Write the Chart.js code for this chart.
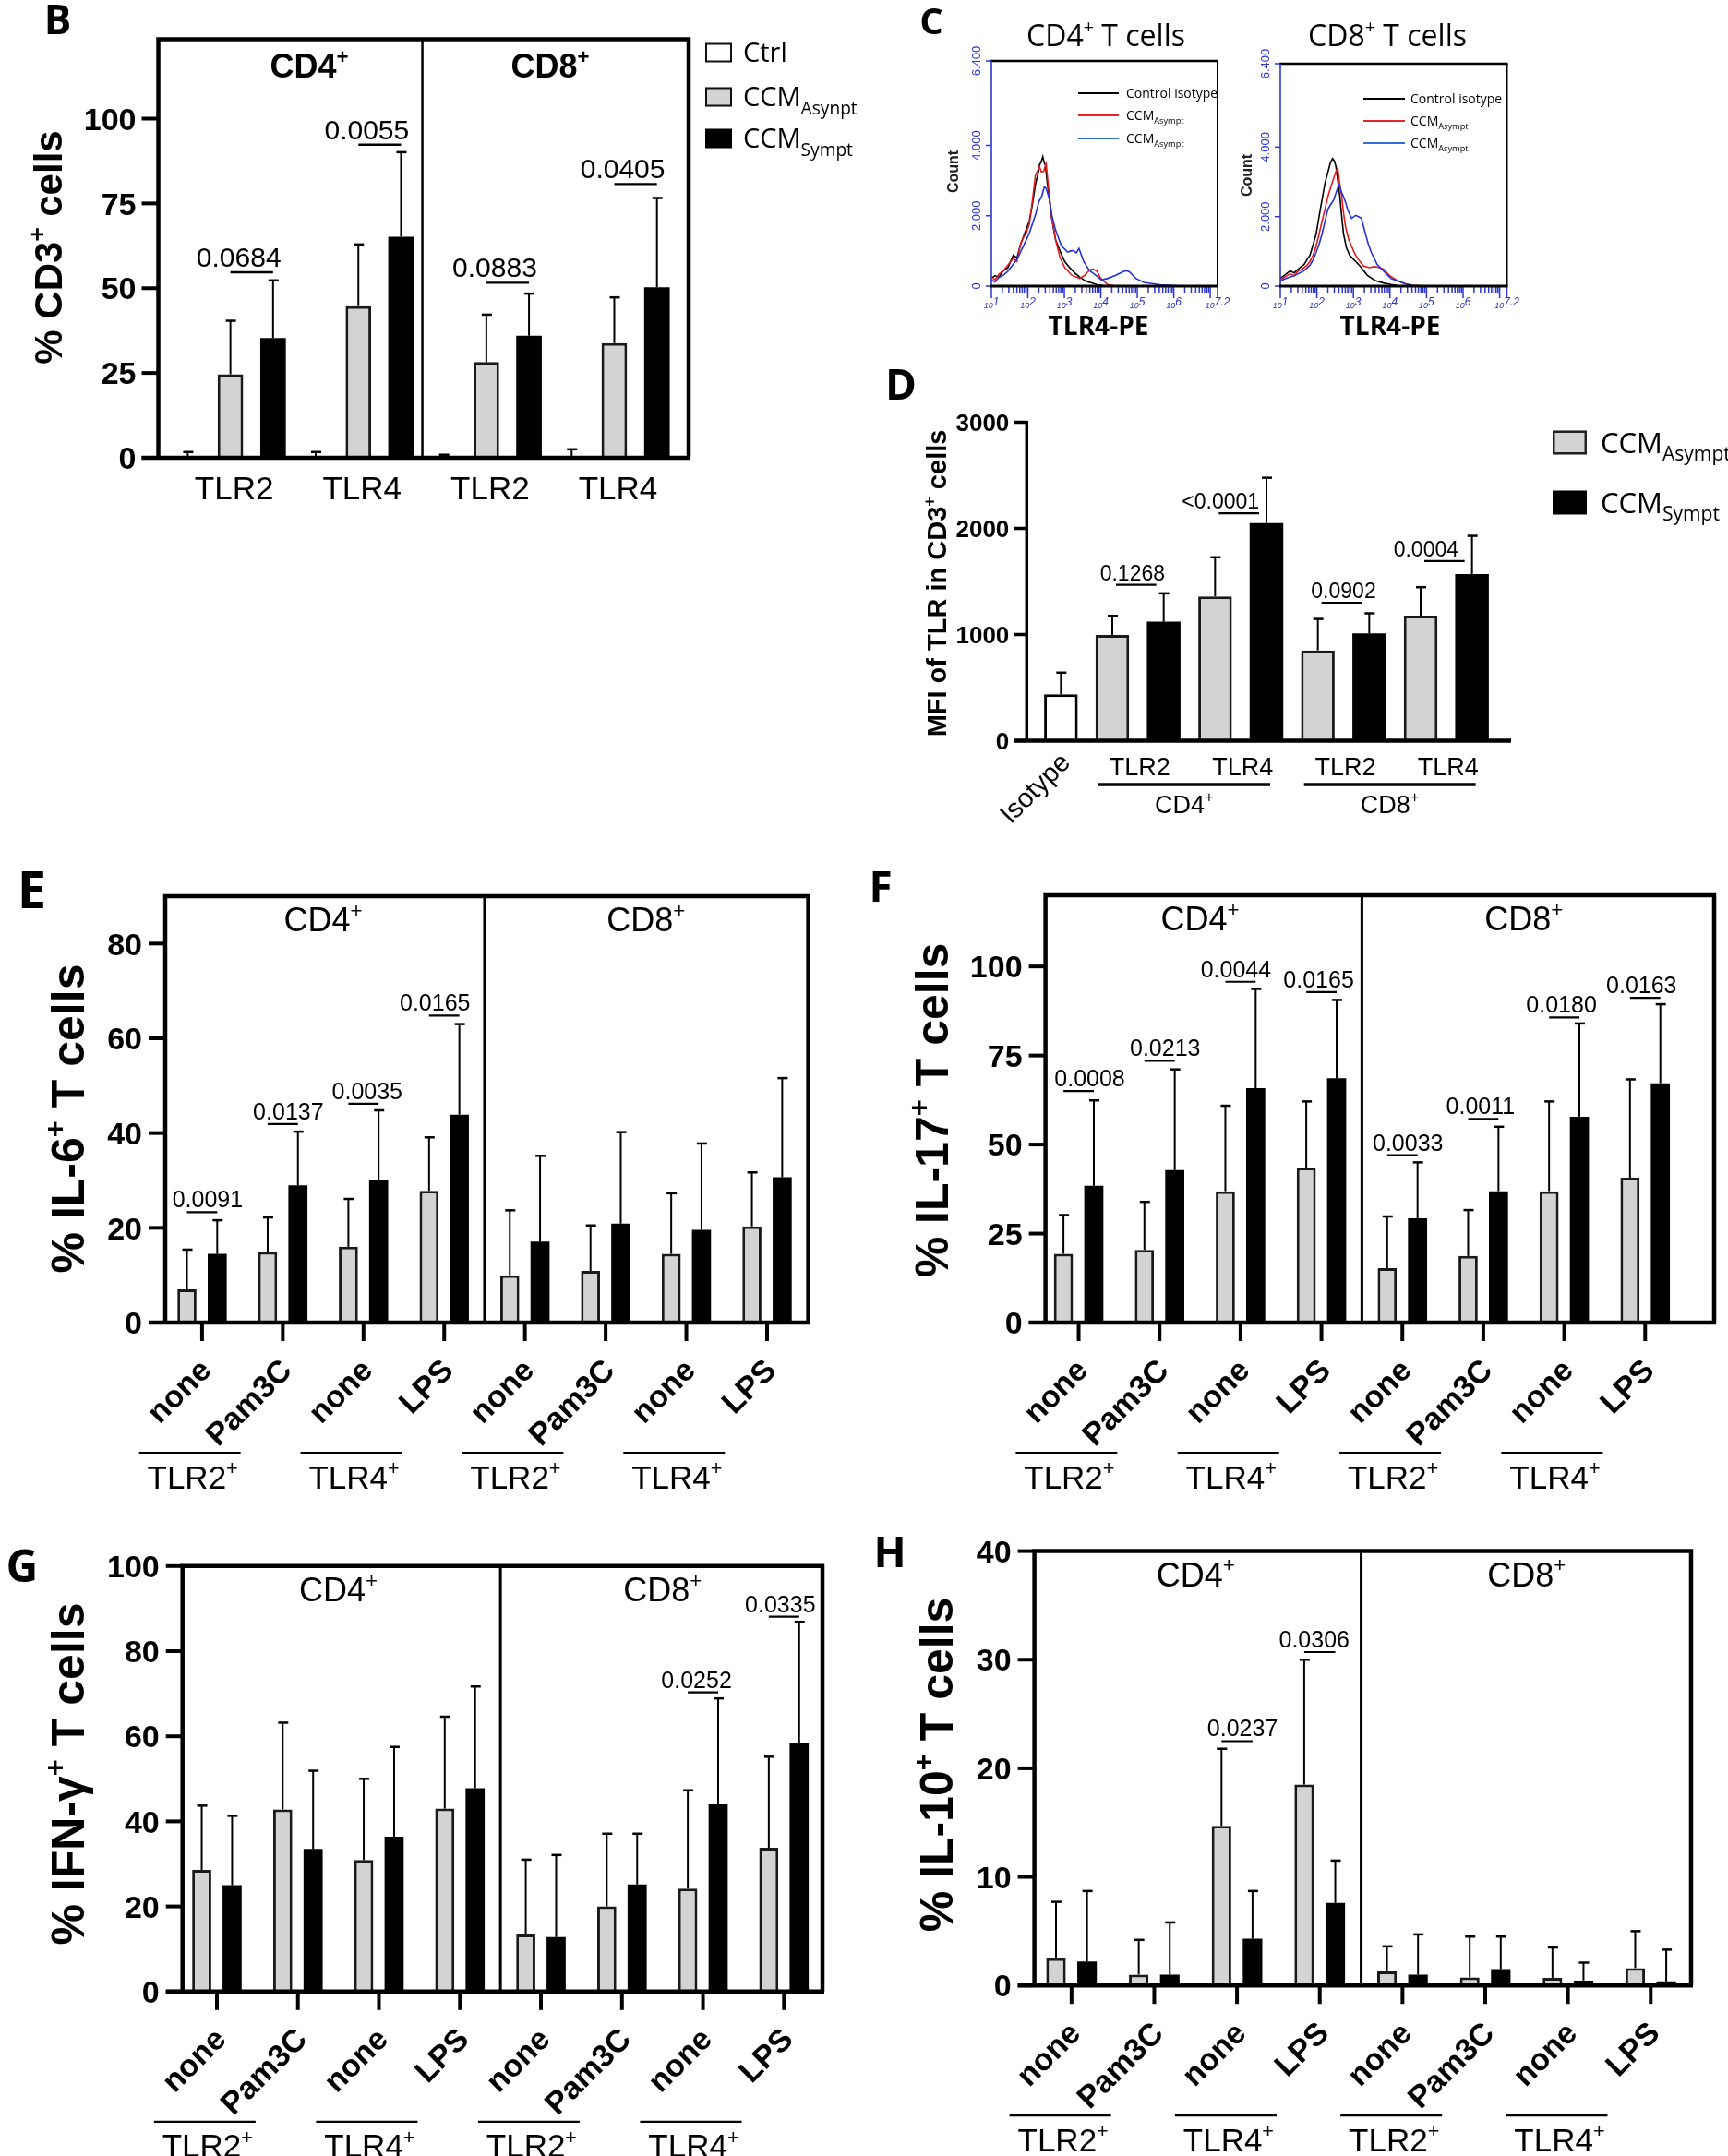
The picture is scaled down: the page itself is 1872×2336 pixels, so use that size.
<!DOCTYPE html>
<html>
<head>
<meta charset="utf-8">
<title>TLR expression and cytokine production in T cells</title>
<script src="https://cdn.jsdelivr.net/npm/chart.js@4.4.1/dist/chart.umd.min.js"></script>
<style>
  html, body { margin:0; padding:0; background:#ffffff; }
  body { position:relative; width:1872px; height:2336px; overflow:hidden; }
  canvas { position:absolute; }
</style>
</head>
<body>
<canvas id="cB"></canvas>
<canvas id="cC1"></canvas>
<canvas id="cC2"></canvas>
<canvas id="cD"></canvas>
<canvas id="cE"></canvas>
<canvas id="cF"></canvas>
<canvas id="cG"></canvas>
<canvas id="cH"></canvas>
<script>
// ======================= DATA =======================
const tlrLabels = ['TLR2', 'TLR4', 'TLR2', 'TLR4'];
const stimLabels = ['none', 'Pam3C', 'none', 'LPS', 'none', 'Pam3C', 'none', 'LPS'];

// ---- Panel B: % CD3+ cells
const bCtrl     = [0, 0, 0, 0.5];
const bCtrlErr  = [1.7, 1.7, 0.9, 2.5];
const bAsym     = [24.6, 44.7, 28.2, 33.8];
const bAsymErr  = [40.4, 62.9, 42.2, 47.3];
const bSym      = [35.3, 65.2, 36.0, 50.3];
const bSymErr   = [52.3, 90.1, 48.4, 76.6];
const bPText    = ['0.0684', '0.0055', '0.0883', '0.0405'];
const bPLevel   = [54.7, 92.3, 51.6, 80.7];
const bYTicks   = [0, 25, 50, 75, 100];
const bYMax     = 123.4;
const bLegendNames = [[['Ctrl']], [['CCM'], ['Asynpt', 'sub']], [['CCM'], ['Sympt', 'sub']]];

// ---- Panel C: TLR4-PE histograms (x in log10 units, y = count)
const cYTicks = [0, 2000, 4000, 6400];
const cYTickLabels = ['0', '2.000', '4.000', '6.400'];
const cXTickExps = [1, 2, 3, 4, 5, 6, 7.2];
const cLegendNames = [[['Control isotype']], [['CCM'], ['Asympt', 'sub']], [['CCM'], ['Asympt', 'sub']]];
// CD4+ T cells
const c4BlackX = [1.0,1.1,1.2,1.33,1.45,1.6,1.7,1.8,1.88,1.95,2.04,2.12,2.21,2.28,2.32,2.37,2.41,2.45,2.48,2.53,2.59,2.66,2.76,2.88,3.01,3.15,3.31,3.42,3.53,3.65,3.75,3.9,4.1,4.5,7.2];
const c4BlackY = [220,300,250,440,520,880,800,1180,1410,1600,1850,2300,2900,3200,3440,3550,3680,3500,3440,2950,2470,1900,1320,1000,700,520,350,260,180,120,90,40,10,0,0];
const c4RedX = [1.0,1.1,1.2,1.33,1.45,1.6,1.7,1.8,1.88,1.95,2.04,2.12,2.21,2.28,2.32,2.37,2.43,2.5,2.59,2.66,2.76,2.88,3.01,3.2,3.42,3.55,3.64,3.72,3.8,3.9,3.97,4.1,4.19,4.4,7.2];
const c4RedY = [260,180,330,440,600,790,700,1200,1380,1500,1760,2400,3170,3300,3390,3250,3260,3480,2555,1900,1320,820,530,310,220,300,400,470,485,420,265,120,44,0,0];
const c4BlueX = [1.0,1.1,1.2,1.33,1.45,1.6,1.72,1.88,1.95,2.04,2.12,2.21,2.3,2.38,2.45,2.5,2.59,2.66,2.76,2.92,3.09,3.18,3.25,3.33,3.4,3.53,3.69,3.86,4.02,4.19,4.41,4.55,4.63,4.72,4.79,4.96,5.18,5.4,5.62,5.95,6.3,7.2];
const c4BlueY = [176,120,240,310,420,620,800,1145,1300,1500,1750,2030,2400,2555,2820,2780,2470,2000,1590,1145,970,1000,1010,950,1075,705,440,310,176,220,310,380,420,440,400,220,105,70,35,18,0,0];
// CD8+ T cells
const c8BlackX = [1.0,1.1,1.27,1.38,1.49,1.57,1.65,1.73,1.81,1.9,1.98,2.06,2.14,2.22,2.3,2.37,2.43,2.48,2.52,2.57,2.63,2.68,2.73,2.81,2.9,3.06,3.22,3.38,3.6,3.82,4.03,4.3,7.2];
const c8BlackY = [220,300,440,380,490,560,620,760,885,1200,1500,2000,2480,2950,3270,3550,3670,3600,3450,3050,2570,2000,1500,1100,885,710,530,310,160,90,45,0,0];
const c8RedX = [1.0,1.1,1.27,1.38,1.49,1.57,1.65,1.73,1.81,1.9,1.98,2.06,2.14,2.22,2.3,2.38,2.46,2.52,2.57,2.62,2.68,2.73,2.79,2.87,2.95,3.03,3.11,3.28,3.44,3.55,3.65,3.74,3.82,3.9,3.98,4.2,4.41,4.63,5.0,7.2];
const c8RedY = [175,250,355,300,440,480,530,600,710,900,1150,1500,1860,2200,2570,2850,3100,3300,3400,3000,2570,2100,1680,1350,1150,950,800,575,530,560,550,520,490,400,310,160,70,25,0,0];
const c8BlueX = [1.0,1.1,1.27,1.38,1.49,1.57,1.65,1.73,1.81,1.9,1.98,2.06,2.14,2.22,2.3,2.38,2.46,2.53,2.6,2.66,2.73,2.79,2.84,2.95,3.06,3.14,3.22,3.33,3.41,3.49,3.65,3.82,4.03,4.25,4.47,4.7,7.2];
const c8BlueY = [130,200,265,300,355,400,440,520,600,760,970,1200,1500,1850,2210,2350,2480,2700,2920,2750,2570,2400,2210,1950,2035,2000,1950,1500,1200,970,620,440,220,130,45,0,0];

// ---- Panel D: MFI of TLR in CD3+ cells
const dIsotype    = 438;
const dIsotypeErr = 641;
const dAsym    = [996, 1359, 851, 1179];
const dAsymErr = [1176, 1728, 1147, 1446];
const dSym     = [1121, 2049, 1011, 1570];
const dSymErr  = [1388, 2477, 1200, 1930];
const dPText   = ['0.1268', '<0.0001', '0.0902', '0.0004'];
const dPLevel  = [1469, 2143, 1300, 1692];
const dYTicks  = [0, 1000, 2000, 3000];
const dLegendNames = [[['CCM'], ['Asympt', 'sub']], [['CCM'], ['Sympt', 'sub']]];

// ---- Panel E: % IL-6+ T cells
const eAsym    = [7.0, 14.9, 16.0, 27.8, 10.0, 10.9, 14.5, 20.3];
const eAsymErr = [15.4, 22.2, 26.1, 39.1, 23.7, 20.5, 27.3, 31.7];
const eSym     = [14.5, 29.0, 30.2, 43.9, 17.1, 20.9, 19.6, 30.7];
const eSymErr  = [21.6, 40.3, 44.8, 63.0, 35.2, 40.2, 37.8, 51.6];
const ePText   = ['0.0091', '0.0137', '0.0035', '0.0165'];
const ePIdx    = [0, 1, 2, 3];
const ePLevel  = [23.3, 41.9, 46.2, 64.8];
const eYTicks  = [0, 20, 40, 60, 80];

// ---- Panel F: % IL-17+ T cells
const fAsym    = [19.3, 20.4, 36.9, 43.5, 15.3, 18.7, 36.9, 40.7];
const fAsymErr = [30.2, 33.9, 60.9, 62.1, 29.8, 31.6, 62.1, 68.3];
const fSym     = [38.4, 42.8, 65.8, 68.6, 29.3, 36.9, 57.8, 67.2];
const fSymErr  = [62.4, 71.1, 93.7, 90.6, 45.0, 55.0, 84.0, 89.4];
const fPText   = ['0.0008', '0.0213', '0.0044', '0.0165', '0.0033', '0.0011', '0.0180', '0.0163'];
const fPIdx    = [0, 1, 2, 3, 4, 5, 6, 7];
const fPLevel  = [65.0, 73.5, 95.7, 92.8, 47.0, 57.2, 85.7, 91.2];
const fYTicks  = [0, 25, 50, 75, 100];

// ---- Panel G: % IFN-γ+ T cells
const gAsym    = [28.6, 42.8, 30.9, 43.0, 13.4, 20.0, 24.2, 33.8];
const gAsymErr = [43.7, 63.2, 50.0, 64.6, 31.0, 37.1, 47.3, 55.2];
const gSym     = [25.0, 33.5, 36.4, 47.8, 12.8, 25.2, 44.0, 58.5];
const gSymErr  = [41.3, 51.9, 57.5, 71.7, 32.1, 37.1, 68.9, 86.9];
const gPText   = ['0.0252', '0.0335'];
const gPIdx    = [6, 7];
const gPLevel  = [70.3, 88.1];
const gYTicks  = [0, 20, 40, 60, 80, 100];

// ---- Panel H: % IL-10+ T cells
const hAsym    = [2.5, 1.0, 14.7, 18.5, 1.3, 0.75, 0.7, 1.6];
const hAsymErr = [7.7, 4.2, 21.8, 30.0, 3.6, 4.5, 3.5, 5.0];
const hSym     = [2.2, 1.0, 4.3, 7.6, 1.0, 1.5, 0.45, 0.37];
const hSymErr  = [8.7, 5.8, 8.7, 11.5, 4.7, 4.5, 2.1, 3.3];
const hPText   = ['0.0237', '0.0306'];
const hPIdx    = [2, 3];
const hPLevel  = [22.5, 30.7];
const hYTicks  = [0, 10, 20, 30, 40];

// ======================= HELPERS =======================
const SANS = "'Liberation Sans', Arial, Helvetica, sans-serif";
const CAL  = "'Open Sans', 'Liberation Sans', sans-serif";
const GREY = '#d3d3d3';
const EDGE = '#1a1a1a';
const AXBLUE = '#2b35d0';

function fontStr(size, weight, style, family) {
  return `${style || 'normal'} ${weight || 'normal'} ${size}px ${family || SANS}`;
}
function rich(ctx, parts, x, y, o) {
  o = o || {};
  const size = o.size || 20, small = size * (o.smallScale || 0.62);
  const f = s => fontStr(s, o.weight, o.style, o.family);
  let total = 0;
  const items = parts.map(p => {
    const t = p[0], k = p[1] || '';
    const s = k ? small : size;
    ctx.font = f(s);
    const w = ctx.measureText(t).width;
    total += w;
    return { t, k, s, w };
  });
  let cx = o.align === 'left' ? x : (o.align === 'right' ? x - total : x - total / 2);
  const base = y + size * 0.36;
  ctx.fillStyle = o.color || '#000';
  ctx.textAlign = 'left';
  ctx.textBaseline = 'alphabetic';
  items.forEach(it => {
    ctx.font = f(it.s);
    let by = base;
    if (it.k === 'sup') by = base - size * (o.supRaise || 0.42);
    else if (it.k === 'sub') by = base + size * (o.subDrop || 0.28);
    ctx.fillText(it.t, cx, by);
    cx += it.w;
  });
  return total;
}
function richRot(ctx, parts, x, y, ang, o) {
  ctx.save(); ctx.translate(x, y); ctx.rotate(ang); rich(ctx, parts, 0, 0, o); ctx.restore();
}
function seg(ctx, x1, y1, x2, y2, w, c) {
  ctx.save(); ctx.lineWidth = w; ctx.strokeStyle = c || '#000'; ctx.lineCap = 'butt';
  ctx.beginPath(); ctx.moveTo(x1, y1); ctx.lineTo(x2, y2); ctx.stroke(); ctx.restore();
}
function swatch(ctx, x, y, w, h, fill, stroke, lw) {
  ctx.save(); ctx.fillStyle = fill; ctx.fillRect(x, y, w, h);
  if (stroke) { ctx.lineWidth = lw; ctx.strokeStyle = stroke; ctx.strokeRect(x + lw / 2, y + lw / 2, w - lw, h - lw); }
  ctx.restore();
}
function prepCanvas(id, r) {
  const c = document.getElementById(id);
  c.width = r.w; c.height = r.h;
  Object.assign(c.style, { left: r.x + 'px', top: r.y + 'px', width: r.w + 'px', height: r.h + 'px' });
  return c;
}
function padFor(r, a) {
  return { left: a.l - r.x, right: r.x + r.w - a.r, top: a.t - r.y, bottom: r.y + r.h - a.b };
}
function baseOptions(r, a, yMax) {
  return {
    responsive: false, animation: false, devicePixelRatio: 1, events: [],
    layout: { padding: padFor(r, a) },
    plugins: { legend: { display: false }, tooltip: { enabled: false }, title: { display: false } },
    scales: { x: { display: false }, y: { display: false, min: 0, max: yMax } }
  };
}
function pText(ctx, t, x, y, size) {
  ctx.font = fontStr(size); ctx.fillStyle = '#000'; ctx.textAlign = 'center'; ctx.textBaseline = 'alphabetic';
  ctx.fillText(t, x, y);
}
const errorBarPlugin = {
  id: 'errorBars',
  afterDatasetsDraw(chart) {
    const ctx = chart.ctx, ys = chart.scales.y;
    chart.data.datasets.forEach((ds, di) => {
      if (!ds.errTop) return;
      const meta = chart.getDatasetMeta(di);
      meta.data.forEach((el, i) => {
        const e = ds.errTop[i];
        if (e == null) return;
        const yT = ys.getPixelForValue(e);
        seg(ctx, el.x, el.y, el.x, yT, 2);
        seg(ctx, el.x - 5, yT, el.x + 6, yT, 2.5);
      });
    });
  }
};

// ======================= PANEL B =======================
(function () {
  const r = { x: 0, y: 0, w: 960, h: 570 }, a = { l: 180.3, r: 734.8, t: 42.5, b: 496 };
  const vals = [], errs = [], bg = [], bc = [], bw = [], labels = [];
  tlrLabels.forEach((g, i) => {
    vals.push(bCtrl[i], bAsym[i], bSym[i]);
    errs.push(bCtrlErr[i], bAsymErr[i], bSymErr[i]);
    bg.push('#ffffff', GREY, '#000000');
    bc.push('#000000', EDGE, '#000000');
    bw.push(2.5, 3, 0);
    labels.push('Ctrl ' + g, g, 'Sympt ' + g);
  });
  const decor = {
    id: 'bDecor',
    afterDraw(chart) {
      const ctx = chart.ctx, xs = chart.scales.x, ys = chart.scales.y;
      ctx.save(); ctx.translate(-r.x, -r.y);
      const X = i => xs.getPixelForValue(i) + r.x, Y = v => ys.getPixelForValue(v) + r.y;
      const top = Y(bYMax), zero = Y(0), fl = 171.5, fr = 746, TL = 18;
      ctx.strokeStyle = '#000'; ctx.lineWidth = 4.5; ctx.lineJoin = 'miter';
      ctx.beginPath(); ctx.moveTo(fl, zero); ctx.lineTo(fl, top); ctx.lineTo(fr, top); ctx.lineTo(fr, zero); ctx.stroke();
      seg(ctx, fl - TL, zero, fr + 2, zero, 4.5);
      const dv = (X(5) + X(6)) / 2;
      seg(ctx, dv, top, dv, zero, 2.5);
      bYTicks.forEach(v => {
        const y = Y(v);
        seg(ctx, fl - TL, y, fl, y, 4);
        rich(ctx, [[String(v)]], fl - TL - 6, y, { size: 34, weight: 'bold', align: 'right' });
      });
      tlrLabels.forEach((g, i) => rich(ctx, [[g]], X(3 * i + 1) + 4, 528, { size: 35 }));
      rich(ctx, [['CD4'], ['+', 'sup']], 335, 71, { size: 36, weight: 'bold' });
      rich(ctx, [['CD8'], ['+', 'sup']], 596, 71, { size: 36, weight: 'bold' });
      const meta = chart.getDatasetMeta(0);
      bPText.forEach((t, k) => {
        const x1 = meta.data[3 * k + 1].x + r.x, x2 = meta.data[3 * k + 2].x + r.x, y = Y(bPLevel[k]);
        seg(ctx, x1, y, x2, y, 2.4);
        pText(ctx, t, (x1 + x2) / 2 - 14, y - 6, 30);
      });
      richRot(ctx, [['% CD3'], ['+', 'sup'], [' cells']], 52, 268, -Math.PI / 2, { size: 42, weight: 'bold' });
      rich(ctx, [['B']], 62.5, 21, { size: 44, weight: 'bold', family: CAL });
      const fills = ['#ffffff', GREY, '#000000'], ly = [57, 105, 150];
      bLegendNames.forEach((nm, i) => {
        swatch(ctx, 764, ly[i] - 10.5, 29, 21, fills[i], i < 2 ? '#111' : null, 2);
        rich(ctx, nm, 805, ly[i], { size: 29, family: CAL, align: 'left', smallScale: 0.66, subDrop: 0.29 });
      });
      ctx.restore();
    }
  };
  new Chart(prepCanvas('cB', r), {
    type: 'bar',
    data: { labels, datasets: [{ label: '% CD3+ cells', data: vals, errTop: errs, backgroundColor: bg, borderColor: bc, borderWidth: bw, barPercentage: 0.6, categoryPercentage: 1 }] },
    options: baseOptions(r, a, bYMax),
    plugins: [errorBarPlugin, decor]
  });
})();

// ======================= PANEL C =======================
function histPanel(P) {
  const mk = (xs, ys) => xs.map((x, i) => ({ x, y: ys[i] }));
  const decor = {
    id: 'hDecor',
    afterDraw(chart) {
      const ctx = chart.ctx, xs = chart.scales.x, ys = chart.scales.y, r = P.rect;
      ctx.save(); ctx.translate(-r.x, -r.y);
      const X = v => xs.getPixelForValue(v) + r.x, Y = v => ys.getPixelForValue(v) + r.y;
      const l = X(1), rt = X(7.2), t = Y(6400), b = Y(0);
      seg(ctx, l - 1, t, rt + 1, t, 2.6);
      seg(ctx, rt, t, rt, b, 2);
      seg(ctx, l, t, l, b, 1.6, AXBLUE);
      cYTicks.forEach((v, i) => {
        const y = Y(v);
        seg(ctx, l - 6, y, l, y, 1.5, AXBLUE);
        richRot(ctx, [[cYTickLabels[i]]], l - 17, y, -Math.PI / 2, { size: 13, color: AXBLUE });
      });
      for (let n = 1; n <= 7; n++) {
        for (let k = 1; k <= 9; k++) {
          const v = n + Math.log10(k);
          if (v > 7.2 + 1e-9) break;
          const x = X(v);
          seg(ctx, x, b, x, b + (k === 1 ? 13 : 8), 1.5, AXBLUE);
        }
      }
      seg(ctx, rt, b, rt, b + 13, 1.5, AXBLUE);
      seg(ctx, l - 1, b, rt + 1, b, 3.2, '#000');
      cXTickExps.forEach(e => {
        const x = X(e), ex = String(e);
        ctx.font = fontStr(9, 'normal', 'italic'); const w1 = ctx.measureText('10').width;
        ctx.font = fontStr(12, 'normal', 'italic'); const w2 = ctx.measureText(ex).width;
        const sx = x - (w1 + w2) / 2;
        ctx.fillStyle = AXBLUE; ctx.textAlign = 'left'; ctx.textBaseline = 'alphabetic';
        ctx.font = fontStr(9, 'normal', 'italic'); ctx.fillText('10', sx, b + 24);
        ctx.font = fontStr(12, 'normal', 'italic'); ctx.fillText(ex, sx + w1, b + 21);
      });
      rich(ctx, [['CD' + P.cell], ['+', 'sup'], [' T cells']], P.titlePos[0], P.titlePos[1], { size: 32, family: CAL });
      richRot(ctx, [['Count']], P.countPos[0], P.countPos[1], -Math.PI / 2, { size: 16, weight: 'bold', color: '#222' });
      rich(ctx, [['TLR4-PE']], P.xTitlePos[0], P.xTitlePos[1], { size: 28, weight: 'bold', family: CAL });
      const lc = ['#000000', '#e8242a', '#2e6fd8'];
      cLegendNames.forEach((nm, i) => {
        const y = P.legY[i];
        seg(ctx, P.legX[0], y, P.legX[1], y, 2, lc[i]);
        rich(ctx, nm, P.legX[2], y, { size: 14, family: CAL, align: 'left', smallScale: 0.66, subDrop: 0.3 });
      });
      if (P.letter) rich(ctx, [[P.letter]], P.letterPos[0], P.letterPos[1], { size: 40, weight: 'bold', family: CAL });
      ctx.restore();
    }
  };
  const line = (label, data, color, order) => ({ label, data, borderColor: color, borderWidth: 1.6, pointRadius: 0, tension: 0, fill: false, order });
  new Chart(prepCanvas(P.id, P.rect), {
    type: 'line',
    data: { datasets: [
      line('Control isotype', mk(P.kX, P.kY), '#000000', 3),
      line('CCM Asympt', mk(P.rX, P.rY), '#e41a1c', 2),
      line('CCM Asympt', mk(P.bX, P.bY), '#2233dd', 1)
    ] },
    options: {
      responsive: false, animation: false, devicePixelRatio: 1, events: [],
      layout: { padding: padFor(P.rect, P.area) },
      plugins: { legend: { display: false }, tooltip: { enabled: false } },
      scales: { x: { type: 'linear', display: false, min: 1, max: 7.2 }, y: { display: false, min: 0, max: 6400 } }
    },
    plugins: [decor]
  });
}
histPanel({ id: 'cC1', cell: '4', rect: { x: 960, y: 0, w: 385, h: 380 }, area: { l: 1074, r: 1319, t: 66, b: 310 },
  kX: c4BlackX, kY: c4BlackY, rX: c4RedX, rY: c4RedY, bX: c4BlueX, bY: c4BlueY,
  titlePos: [1198, 38], countPos: [1032, 186], xTitlePos: [1190, 353],
  legX: [1168, 1212, 1220], legY: [101, 125, 150], letter: 'C', letterPos: [1009, 22.5] });
histPanel({ id: 'cC2', cell: '8', rect: { x: 1335, y: 0, w: 335, h: 380 }, area: { l: 1387, r: 1632.5, t: 69, b: 310 },
  kX: c8BlackX, kY: c8BlackY, rX: c8RedX, rY: c8RedY, bX: c8BlueX, bY: c8BlueY,
  titlePos: [1503, 38], countPos: [1350, 190], xTitlePos: [1506, 353],
  legX: [1477, 1522, 1528], legY: [107, 131, 155] });

// ======================= PANEL D =======================
(function () {
  const r = { x: 950, y: 385, w: 922, h: 520 }, a = { l: 1121.5, r: 1622.5, t: 457.5, b: 802.5 };
  const vals = [dIsotype], errs = [dIsotypeErr], bg = ['#ffffff'], bc = ['#000000'], bw = [3], labels = ['Isotype'];
  tlrLabels.forEach((g, i) => {
    vals.push(dAsym[i], dSym[i]); errs.push(dAsymErr[i], dSymErr[i]);
    bg.push(GREY, '#000000'); bc.push(EDGE, '#000000'); bw.push(3, 0);
    labels.push(g + ' Asympt ' + i, g + ' Sympt ' + i);
  });
  const pDx = [-6, -22, 0, -22];
  const decor = {
    id: 'dDecor',
    afterDraw(chart) {
      const ctx = chart.ctx, xs = chart.scales.x, ys = chart.scales.y;
      ctx.save(); ctx.translate(-r.x, -r.y);
      const X = i => xs.getPixelForValue(i) + r.x, Y = v => ys.getPixelForValue(v) + r.y;
      const ax = 1112.3, zero = Y(0);
      seg(ctx, ax, Y(3000) - 1.5, ax, zero, 3.5);
      dYTicks.forEach(v => {
        const y = Y(v);
        seg(ctx, ax - 14, y, ax, y, 3.5);
        rich(ctx, [[String(v)]], ax - 19, y, { size: 26, weight: 'bold', align: 'right' });
      });
      seg(ctx, ax - 14, zero, 1637, zero, 4.5);
      tlrLabels.forEach((g, k) => rich(ctx, [[g]], (X(1 + 2 * k) + X(2 + 2 * k)) / 2 + 2, 830, { size: 27 }));
      [['CD4', 1, 4], ['CD8', 5, 8]].forEach(([nm, i1, i2]) => {
        const x1 = X(i1) - 15, x2 = X(i2) + 4;
        seg(ctx, x1, 850, x2, 850, 3.5);
        rich(ctx, [[nm], ['+', 'sup']], (x1 + x2) / 2, 871, { size: 27 });
      });
      ctx.save(); ctx.translate(X(0) + 6, 822); ctx.rotate(-Math.PI / 4);
      ctx.font = fontStr(29); ctx.fillStyle = '#000'; ctx.textAlign = 'right'; ctx.textBaseline = 'middle';
      ctx.fillText('Isotype', 0, 0); ctx.restore();
      const meta = chart.getDatasetMeta(0);
      dPText.forEach((t, k) => {
        const x1 = meta.data[1 + 2 * k].x + r.x, x2 = meta.data[2 + 2 * k].x + r.x, y = Y(dPLevel[k]);
        seg(ctx, x1 + 4, y, x2 - 8, y, 2.2);
        pText(ctx, t, (x1 + x2) / 2 + pDx[k], y - 5, 23);
      });
      richRot(ctx, [['MFI of TLR in CD3'], ['+', 'sup'], [' cells']], 1015, 632, -Math.PI / 2, { size: 29, weight: 'bold' });
      rich(ctx, [['D']], 976, 416, { size: 46, weight: 'bold', family: CAL });
      const fills = [GREY, '#000000'], ly = [479.5, 544.5];
      dLegendNames.forEach((nm, i) => {
        swatch(ctx, 1682, ly[i] - 13, 37, 26, fills[i], i === 0 ? '#222' : null, 2.5);
        rich(ctx, nm, 1734, ly[i], { size: 31, family: CAL, align: 'left', smallScale: 0.68, subDrop: 0.28 });
      });
      ctx.restore();
    }
  };
  new Chart(prepCanvas('cD', r), {
    type: 'bar',
    data: { labels, datasets: [{ label: 'MFI', data: vals, errTop: errs, backgroundColor: bg, borderColor: bc, borderWidth: bw, barPercentage: 0.655, categoryPercentage: 1 }] },
    options: baseOptions(r, a, 3000),
    plugins: [errorBarPlugin, decor]
  });
})();

// ======================= PANELS E–H =======================
function drawGroupedDecor(chart, P) {
  const ctx = chart.ctx, xs = chart.scales.x, ys = chart.scales.y, r = P.rect;
  ctx.save(); ctx.translate(-r.x, -r.y);
  const X = i => xs.getPixelForValue(i) + r.x, Y = v => ys.getPixelForValue(v) + r.y;
  const top = Y(P.yMax), zero = Y(0), fl = P.frame.l, fr = P.frame.r, TL = 18;
  ctx.strokeStyle = '#000'; ctx.lineWidth = 4.5; ctx.lineJoin = 'miter';
  ctx.beginPath(); ctx.moveTo(fl, zero); ctx.lineTo(fl, top); ctx.lineTo(fr, top); ctx.lineTo(fr, zero); ctx.stroke();
  seg(ctx, fl - TL, zero, fr + 2, zero, 4.5);
  const dv = (X(3) + X(4)) / 2;
  seg(ctx, dv, top, dv, zero, 3);
  P.yTicks.forEach(v => {
    const y = Y(v);
    seg(ctx, fl - TL, y, fl, y, 4);
    rich(ctx, [[String(v)]], fl - TL - 7, y, { size: 34, weight: 'bold', align: 'right' });
  });
  stimLabels.forEach((s, i) => {
    const x = X(i);
    seg(ctx, x, zero, x, zero + 20, 4);
    ctx.save(); ctx.translate(x + 5, zero + 47); ctx.rotate(-Math.PI / 4);
    ctx.font = fontStr(34, 'bold'); ctx.fillStyle = '#000'; ctx.textAlign = 'right'; ctx.textBaseline = 'middle';
    ctx.fillText(s, 0, 0); ctx.restore();
  });
  tlrLabels.forEach((g, k) => {
    const cx = (X(2 * k) + X(2 * k + 1)) / 2 - 57, ly = zero + 141;
    seg(ctx, cx - 55, ly, cx + 55, ly, 2.2);
    rich(ctx, [[g], ['+', 'sup']], cx + 3, ly + 26, { size: 35 });
  });
  rich(ctx, [['CD4'], ['+', 'sup']], (X(0) + X(3)) / 2, top + 25, { size: 36 });
  rich(ctx, [['CD8'], ['+', 'sup']], (X(4) + X(7)) / 2, top + 25, { size: 36 });
  const m0 = chart.getDatasetMeta(0), m1 = chart.getDatasetMeta(1);
  P.pText.forEach((t, k) => {
    const i = P.pIdx[k];
    const x1 = m0.data[i].x + r.x, x2 = m1.data[i].x + r.x, y = Y(P.pLevel[k]);
    seg(ctx, x1, y, x2, y, 2.2);
    pText(ctx, t, (x1 + x2) / 2 + P.pDx[k], y - 5, 25);
  });
  richRot(ctx, P.title, P.titlePos[0], P.titlePos[1], -Math.PI / 2, { size: 50, weight: 'bold' });
  rich(ctx, [[P.letter]], P.letterPos[0], P.letterPos[1], { size: P.letterSize, weight: 'bold', family: CAL });
  ctx.restore();
}
function groupedPanel(P) {
  const ds = (label, data, err, bg, bc, bw) => ({ label, data, errTop: err, backgroundColor: bg, borderColor: bc, borderWidth: bw, categoryPercentage: 0.75, barPercentage: 0.63 });
  new Chart(prepCanvas(P.id, P.rect), {
    type: 'bar',
    data: { labels: stimLabels.map((s, i) => s + ' ' + i), datasets: [
      ds('CCM Asympt', P.asym, P.asymErr, GREY, EDGE, 3),
      ds('CCM Sympt', P.sym, P.symErr, '#000000', '#000000', 0)
    ] },
    options: baseOptions(P.rect, P.area, P.yMax),
    plugins: [errorBarPlugin, { id: 'gDecor', afterDraw(chart) { drawGroupedDecor(chart, P); } }]
  });
}
groupedPanel({ id: 'cE', letter: 'E', letterPos: [34.5, 964], letterSize: 56, rect: { x: 0, y: 935, w: 935, h: 700 },
  area: { l: 175.2, r: 874.7, t: 971, b: 1433 }, frame: { l: 179, r: 875.6 }, yMax: 90, yTicks: eYTicks,
  asym: eAsym, asymErr: eAsymErr, sym: eSym, symErr: eSymErr, pText: ePText, pIdx: ePIdx, pLevel: ePLevel,
  pDx: [6, 6, 4, -10],
  title: [['% IL-6'], ['+', 'sup'], [' T cells']], titlePos: [73, 1212] });
groupedPanel({ id: 'cF', letter: 'F', letterPos: [954, 960], letterSize: 46, rect: { x: 935, y: 935, w: 937, h: 700 },
  area: { l: 1124.7, r: 1826.1, t: 970, b: 1433 }, frame: { l: 1132.6, r: 1857 }, yMax: 120, yTicks: fYTicks,
  asym: fAsym, asymErr: fAsymErr, sym: fSym, symErr: fSymErr, pText: fPText, pIdx: fPIdx, pLevel: fPLevel,
  pDx: [12, 6, -5, -3, 6, -3, -3, -4],
  title: [['% IL-17'], ['+', 'sup'], [' T cells']], titlePos: [1009, 1203] });
groupedPanel({ id: 'cG', letter: 'G', letterPos: [24, 1697], letterSize: 48, rect: { x: 0, y: 1645, w: 935, h: 691 },
  area: { l: 191.1, r: 893.2, t: 1696.8, b: 2157.8 }, frame: { l: 197.7, r: 891 }, yMax: 100, yTicks: gYTicks,
  asym: gAsym, asymErr: gAsymErr, sym: gSym, symErr: gSymErr, pText: gPText, pIdx: gPIdx, pLevel: gPLevel,
  pDx: [-7, -4],
  title: [['% IFN-γ'], ['+', 'sup'], [' T cells']], titlePos: [73, 1922] });
groupedPanel({ id: 'cH', letter: 'H', letterPos: [964, 1681], letterSize: 46, rect: { x: 935, y: 1645, w: 937, h: 691 },
  area: { l: 1116, r: 1833.1, t: 1680.6, b: 2151.2 }, frame: { l: 1120.6, r: 1832 }, yMax: 40, yTicks: hYTicks,
  asym: hAsym, asymErr: hAsymErr, sym: hSym, symErr: hSymErr, pText: hPText, pIdx: hPIdx, pLevel: hPLevel,
  pDx: [6, -6],
  title: [['% IL-10'], ['+', 'sup'], [' T cells']], titlePos: [1014, 1912] });
</script>
</body>
</html>
